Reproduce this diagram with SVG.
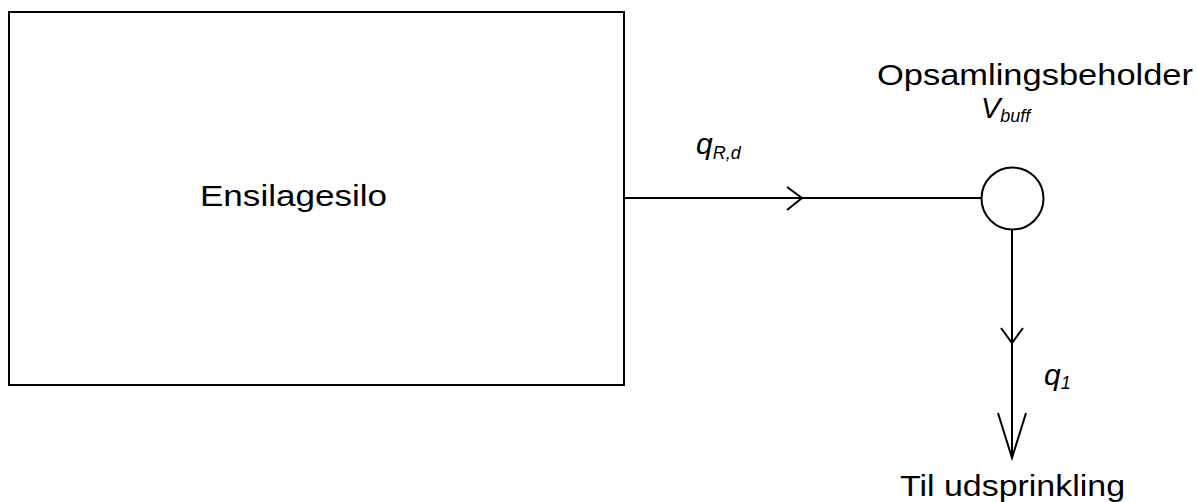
<svg xmlns="http://www.w3.org/2000/svg" width="1198" height="502" viewBox="0 0 1198 502">
<style>
.ln{fill:none;stroke:#000;stroke-width:2}
.ah{fill:none;stroke:#000;stroke-width:2;stroke-linejoin:miter}
.t{font-family:"Liberation Sans",Arial,sans-serif;fill:#000}
.i{font-style:italic}
</style>
<rect width="1198" height="502" fill="#fff"/>
<g id="silo">
<rect class="ln" x="9" y="12" width="615" height="373"/>
<text class="t" x="200" y="206" font-size="29" textLength="187" lengthAdjust="spacingAndGlyphs">Ensilagesilo</text>
</g>
<g id="buffer">
<circle class="ln" cx="1012.5" cy="198.5" r="31"/>
<text class="t" x="877" y="85" font-size="30" textLength="316" lengthAdjust="spacingAndGlyphs">Opsamlingsbeholder</text>
<text class="t i" x="981" y="118" font-size="29">V<tspan font-size="18" dy="4">buff</tspan></text>
</g>
<g id="outlet">
<text class="t" x="900" y="496" font-size="29" textLength="225" lengthAdjust="spacingAndGlyphs">Til udsprinkling</text>
</g>
<g id="connectors">
<line class="ln" x1="624" y1="198" x2="981.5" y2="198"/>
<polyline class="ah" points="787,187 802,198 787,210"/>
<text class="t i" x="696" y="154" font-size="30">q<tspan font-size="18" dy="5">R,d</tspan></text>
<line class="ln" x1="1012" y1="229.5" x2="1012" y2="458"/>
<polyline class="ah" points="1001,328 1012,343 1023,328"/>
<polyline class="ah" points="998,413 1012,458 1026,413"/>
<text class="t i" x="1044" y="385" font-size="30">q<tspan font-size="18" dy="4">1</tspan></text>
</g>
</svg>
